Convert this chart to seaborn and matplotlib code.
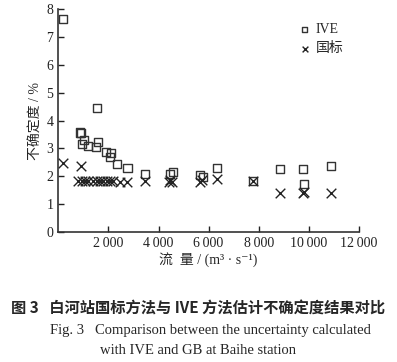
import pandas as pd
import matplotlib
matplotlib.use('Agg')
import matplotlib.pyplot as plt
import seaborn as sns

# Data
ive_flow = [200, 870, 900, 936, 1040, 1200, 1500, 1560, 1600, 1900, 2100, 2060,
            2330, 2760, 3470, 4440, 4580, 5640, 5760, 6330, 7780, 8840, 9780,
            9820, 10870]
ive_unc = [7.65, 3.57, 3.55, 3.15, 3.30, 3.08, 3.04, 4.45, 3.22, 2.88, 2.83, 2.68,
           2.44, 2.28, 2.07, 2.07, 2.14, 2.05, 1.97, 2.30, 1.84, 2.24, 2.27,
           1.72, 2.36]

gb_flow = [200, 900, 800, 940, 1070, 1200, 1400, 1540, 1670, 1800, 1940, 2070,
           2200, 2470, 2750, 3470, 4400, 4540, 4470, 5640, 5740, 6330, 7780,
           8840, 9760, 9800, 10870]
gb_unc = [2.47, 2.38, 1.82, 1.82, 1.82, 1.82, 1.82, 1.82, 1.82, 1.82, 1.82, 1.82,
          1.82, 1.80, 1.80, 1.82, 1.80, 1.79, 1.85, 1.79, 1.85, 1.88, 1.83,
          1.38, 1.38, 1.42, 1.41]

x_ticks = [2000, 4000, 6000, 8000, 10000, 12000]
x_tick_labels = ['2\u2009000', '4\u2009000', '6\u2009000', '8\u2009000', '10\u2009000', '12\u2009000']
y_ticks = [0, 1, 2, 3, 4, 5, 6, 7, 8]

df = pd.concat([
    pd.DataFrame({'flow': ive_flow, 'unc': ive_unc, 'method': 'IVE'}),
    pd.DataFrame({'flow': gb_flow, 'unc': gb_unc, 'method': '国标'}),
])

sns.set_style('ticks')
plt.rcParams['font.family'] = ['Liberation Serif', 'Noto Sans CJK SC', 'DejaVu Sans']

fig = plt.figure(figsize=(3.97, 3.62), dpi=100)
ax = fig.add_axes([0.147, 0.36, 0.757, 0.614])

ax.scatter(df.loc[df.method == 'IVE', 'flow'], df.loc[df.method == 'IVE', 'unc'],
           marker='s', s=34, facecolors='none', edgecolors='#333333', linewidths=1.0,
           label='IVE')
sns.scatterplot(data=df[df.method == '国标'], x='flow', y='unc', marker='x', s=48,
                color='#222222', linewidth=1.0, ax=ax, label='国标')

ax.set_xlim(0, 12000)
ax.set_ylim(0, 8)
ax.set_xticks(x_ticks)
ax.set_xticklabels(x_tick_labels)
ax.set_yticks(y_ticks)
ax.tick_params(direction='in', length=4, width=1, labelsize=10, colors='#222222')
for side in ['top', 'right']:
    ax.spines[side].set_visible(False)
for side in ['left', 'bottom']:
    ax.spines[side].set_linewidth(1.2)
    ax.spines[side].set_color('#333333')

ax.set_xlabel('流  量 / (m³ · s⁻¹)', fontsize=10, labelpad=2)
ax.set_ylabel('不确定度 / %', fontsize=10, labelpad=3)

leg = ax.legend(loc='upper right', bbox_to_anchor=(0.99, 0.995), frameon=False,
                fontsize=10, markerscale=0.6, handlelength=0.8, handletextpad=0.4,
                labelspacing=0.45)

fig.text(0.5, 0.149, '图 3   白河站国标方法与 IVE 方法估计不确定度结果对比',
         ha='center', va='center', fontsize=11, fontweight='bold',
         family=['Noto Sans CJK SC', 'DejaVu Sans'])
fig.text(0.53, 0.088, 'Fig. 3   Comparison between the uncertainty calculated',
         ha='center', va='center', fontsize=10.5, family='Liberation Serif')
fig.text(0.5, 0.033, 'with IVE and GB at Baihe station',
         ha='center', va='center', fontsize=10.5, family='Liberation Serif')

fig.savefig('out.png', dpi=100)
